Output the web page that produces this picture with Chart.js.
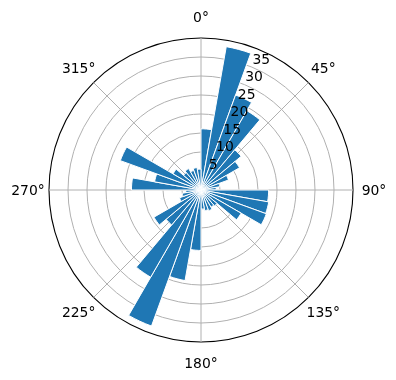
<!DOCTYPE html>
<html>
<head>
<meta charset="utf-8">
<script src="https://cdn.jsdelivr.net/npm/chart.js@4.4.1/dist/chart.umd.min.js"></script>
<style>
  html, body { margin: 0; padding: 0; background: #fff; }
  canvas { display: block; }
</style>
</head>
<body>
<canvas id="grafico" width="396" height="380"></canvas>
<script>
// rotulos dos angulos (grade a cada 45 graus, sentido horario a partir do norte)
const angulos = ['0°', '45°', '90°', '135°', '180°', '225°', '270°', '315°'];

// uma barra a cada 10 graus: 0-10, 10-20, ... 350-360
const alturas = [
    16.1, 38.3, 26.6, 24.1, 13.8, 11.7, 7.7, 5, 4,
    17.8, 18.1, 18.3, 12.2, 5.5, 5.2, 5.8, 5.5, 5,
    15.9, 24.2, 38.1, 26.5, 12, 14.3, 6, 5, 4,
    18.3, 12.4, 22.6, 8.5, 6, 6.5, 5.5, 6, 5.5
];

// rotulos do eixo radial
const rTicks = [5, 10, 15, 20, 25, 30, 35];
const rMax = 40;

const fonte = '13.9px "DejaVu Sans"';

// escreve os rotulos no estilo do matplotlib (angulos por fora, raio em 22.5 graus)
const rotulosPlugin = {
    id: 'rotulos',
    afterDraw(chart) {
        const scale = chart.scales.r;
        const ctx = chart.ctx;
        ctx.save();
        ctx.font = fonte;
        ctx.fillStyle = '#000';

        ctx.textAlign = 'center';
        ctx.textBaseline = 'alphabetic';
        const raioTexto = scale.drawingArea + 21;
        for (let i = 0; i < angulos.length; i++) {
            const p = scale.getPointPosition(i, raioTexto);
            ctx.fillText(angulos[i], p.x, p.y + 5);
        }

        ctx.textAlign = 'left';
        for (let i = 0; i < rTicks.length; i++) {
            const p = scale.getPointPosition(0.5, scale.getDistanceFromCenterForValue(rTicks[i]));
            ctx.fillText(String(rTicks[i]), p.x + 0.5, p.y - 3.5);
        }
        ctx.restore();
    }
};

const config = {
    type: 'polarArea',
    data: {
        labels: angulos,
        datasets: [{
            data: alturas,
            backgroundColor: '#1f77b4',
            borderColor: '#ffffff',
            borderWidth: 1
        }]
    },
    options: {
        responsive: false,
        animation: false,
        layout: { padding: { left: 49, right: 43, top: 38, bottom: 38 } },
        plugins: {
            legend: { display: false },
            tooltip: { enabled: false }
        },
        scales: {
            r: {
                min: 0,
                max: rMax,
                startAngle: 0,
                z: 1,
                ticks: { display: false, stepSize: 5 },
                pointLabels: { display: false },
                grid: {
                    circular: true,
                    color: (c) => c.tick && c.tick.value >= rMax ? '#000000' : '#b0b0b0',
                    lineWidth: (c) => c.tick && c.tick.value >= rMax ? 1.1 : 1
                },
                angleLines: { display: true, color: '#b0b0b0', lineWidth: 1 }
            }
        }
    },
    plugins: [rotulosPlugin]
};

let grafico = new Chart(document.getElementById('grafico'), config);
</script>
</body>
</html>
